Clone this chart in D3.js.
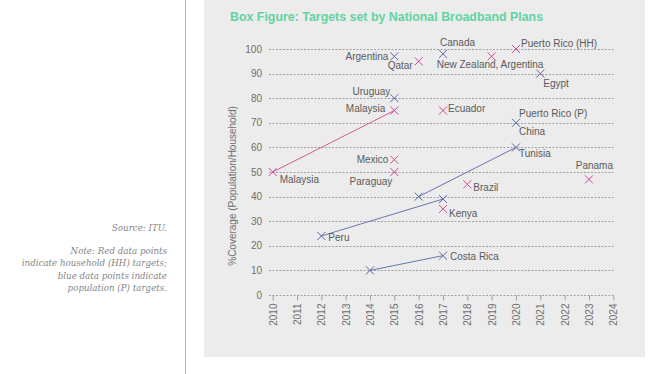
<!DOCTYPE html>
<html>
<head>
<meta charset="utf-8">
<script src="https://cdn.jsdelivr.net/npm/d3@7"></script>
<style>
	body { margin: 0; background: #fff; }
	svg { display: block; font-family: "Helvetica Neue", Helvetica, Arial, "Liberation Sans", sans-serif; }
	.grid line { stroke: #8e8e8e; stroke-dasharray: 2,1.5; stroke-width: 0.8; }
	.tick-label { fill: #6e6e6e; font-size: 10px; }
	.point-label { fill: #5a5a5a; font-size: 10px; }
	.note { fill: #858585; font-family: "DejaVu Serif", serif; font-style: italic; font-size: 8.7px; }
</style>
</head>
<body>
<div id="chart"></div>
<script>
// household (HH) targets, red
var hhYear  = [2010, 2015, 2016, 2019, 2020, 2017, 2015, 2015, 2018, 2017, 2023];
var hhValue = [50,   75,   95,   97,   100,  75,   55,   50,   45,   35,   47];
// population (P) targets, blue
var popYear  = [2015, 2017, 2021, 2015, 2020, 2020, 2016, 2012, 2017, 2014, 2017];
var popValue = [97,   98,   90,   80,   70,   60,   40,   24,   39,   10,   16];
// index pairs joined by a line
var hhLinks  = [[0, 1]];
var popLinks = [[6, 5], [7, 8], [9, 10]];

var yearTicks  = d3.range(2010, 2025);
var valueTicks = d3.range(0, 101, 10);

var labelText  = ["Argentina", "Qatar", "Canada", "New Zealand, Argentina", "Puerto Rico (HH)", "Egypt",
	"Uruguay", "Malaysia", "Ecuador", "Puerto Rico (P)", "China", "Tunisia", "Mexico", "Paraguay",
	"Malaysia", "Brazil", "Panama", "Kenya", "Peru", "Costa Rica"];
var labelYear  = [2015, 2016, 2017, 2019, 2020, 2021, 2015, 2015, 2017, 2020, 2020, 2020, 2015, 2015,
	2010, 2018, 2023, 2017, 2012, 2017];
var labelValue = [97, 95, 98, 97, 100, 90, 80, 75, 75, 70, 70, 60, 55, 50, 50, 45, 47, 35, 24, 16];
// label offsets from the point: dx, dy, anchor
var labelOffset = [[-6, 0, "end"], [-6, 4, "end"], [-3, -11, "start"], [-55, 8, "start"], [5, -6, "start"], [3, 10, "start"],
	[-4, -7, "end"], [-9, -2, "end"], [5, -2, "start"], [3, -9, "start"], [3, 9, "start"], [3, 6, "start"],
	[-6, 0, "end"], [-2, 9, "end"], [7, 7, "start"], [6, 3, "start"], [24, -14, "end"], [6, 5, "start"],
	[7, 2, "start"], [7, 1, "start"]];

var noteLines = ["Note: Red data points", "indicate household (HH) targets;", "blue data points indicate", "population (P) targets."];

var red = "#cf4a92", blue = "#5a68a8";

var svg = d3.select("#chart").append("svg").attr("width", 660).attr("height", 374);

svg.append("line").attr("x1", 185.5).attr("x2", 185.5).attr("y1", 0).attr("y2", 374)
	.attr("stroke", "#b5b5b5").attr("stroke-width", 1);

svg.append("rect").attr("x", 204).attr("y", 0).attr("width", 441).attr("height", 357).attr("fill", "#ececec");

svg.append("text").attr("x", 230).attr("y", 21)
	.attr("fill", "#63d3a3").attr("font-weight", "bold").attr("font-size", "12.4px")
	.text("Box Figure: Targets set by National Broadband Plans");

var x = d3.scaleLinear().domain([2010, 2024]).range([272.7, 613.3]);
var y = d3.scaleLinear().domain([0, 100]).range([295, 49]);

// grid
svg.append("g").attr("class", "grid")
	.selectAll("line").data(valueTicks).enter().append("line")
	.attr("x1", 269).attr("x2", 613.5)
	.attr("y1", function(d) { return Math.round(y(d)) + 0.5; })
	.attr("y2", function(d) { return Math.round(y(d)) + 0.5; });

svg.append("g").selectAll("text").data(valueTicks).enter().append("text")
	.attr("class", "tick-label")
	.attr("x", 262).attr("y", function(d) { return y(d); })
	.attr("dy", "0.35em").attr("text-anchor", "end")
	.text(function(d) { return d; });

var xAxis = d3.axisBottom(x).tickValues(yearTicks).tickFormat(d3.format("d")).tickSize(5).tickSizeOuter(0);
var gx = svg.append("g").attr("transform", "translate(0," + (Math.round(y(0)) + 0.5) + ")").call(xAxis);
gx.select(".domain").remove();
gx.selectAll(".tick line").attr("stroke", "#8e8e8e").attr("stroke-width", 0.8);
gx.selectAll(".tick text")
	.attr("class", "tick-label")
	.attr("fill", null).attr("font-family", null).attr("font-size", null)
	.attr("transform", "rotate(-90)")
	.attr("text-anchor", "end")
	.attr("x", -8).attr("y", 0).attr("dy", "0.35em");

svg.append("text").attr("class", "tick-label")
	.attr("transform", "translate(236,186) rotate(-90)")
	.attr("text-anchor", "middle").attr("font-size", "10px")
	.text("%Coverage (Population/Household)");

function drawSeries(years, values, links, color) {
	var g = svg.append("g");
	g.selectAll("line").data(links).enter().append("line")
		.attr("x1", function(d) { return x(years[d[0]]); })
		.attr("y1", function(d) { return y(values[d[0]]); })
		.attr("x2", function(d) { return x(years[d[1]]); })
		.attr("y2", function(d) { return y(values[d[1]]); })
		.attr("stroke", color).attr("stroke-width", 0.9);
	g.selectAll("path").data(years).enter().append("path")
		.attr("transform", function(d, i) { return "translate(" + x(d) + "," + y(values[i]) + ")"; })
		.attr("d", "M-4,-4L4,4M-4,4L4,-4")
		.attr("stroke", color).attr("stroke-width", 1).attr("fill", "none");
}
drawSeries(hhYear, hhValue, hhLinks, red);
drawSeries(popYear, popValue, popLinks, blue);

svg.append("g").selectAll("text").data(labelText).enter().append("text")
	.attr("class", "point-label")
	.attr("x", function(d, i) { return x(labelYear[i]) + labelOffset[i][0]; })
	.attr("y", function(d, i) { return y(labelValue[i]) + labelOffset[i][1]; })
	.attr("dy", "0.35em")
	.attr("text-anchor", function(d, i) { return labelOffset[i][2]; })
	.text(function(d) { return d; });

// side notes
svg.append("text").attr("class", "note").attr("x", 167).attr("y", 231).attr("text-anchor", "end").text("Source: ITU.");
svg.append("g").selectAll("text").data(noteLines).enter().append("text")
	.attr("class", "note").attr("x", 167)
	.attr("y", function(d, i) { return 254 + i * 12.4; })
	.attr("text-anchor", "end")
	.text(function(d) { return d; });
</script>
</body>
</html>
